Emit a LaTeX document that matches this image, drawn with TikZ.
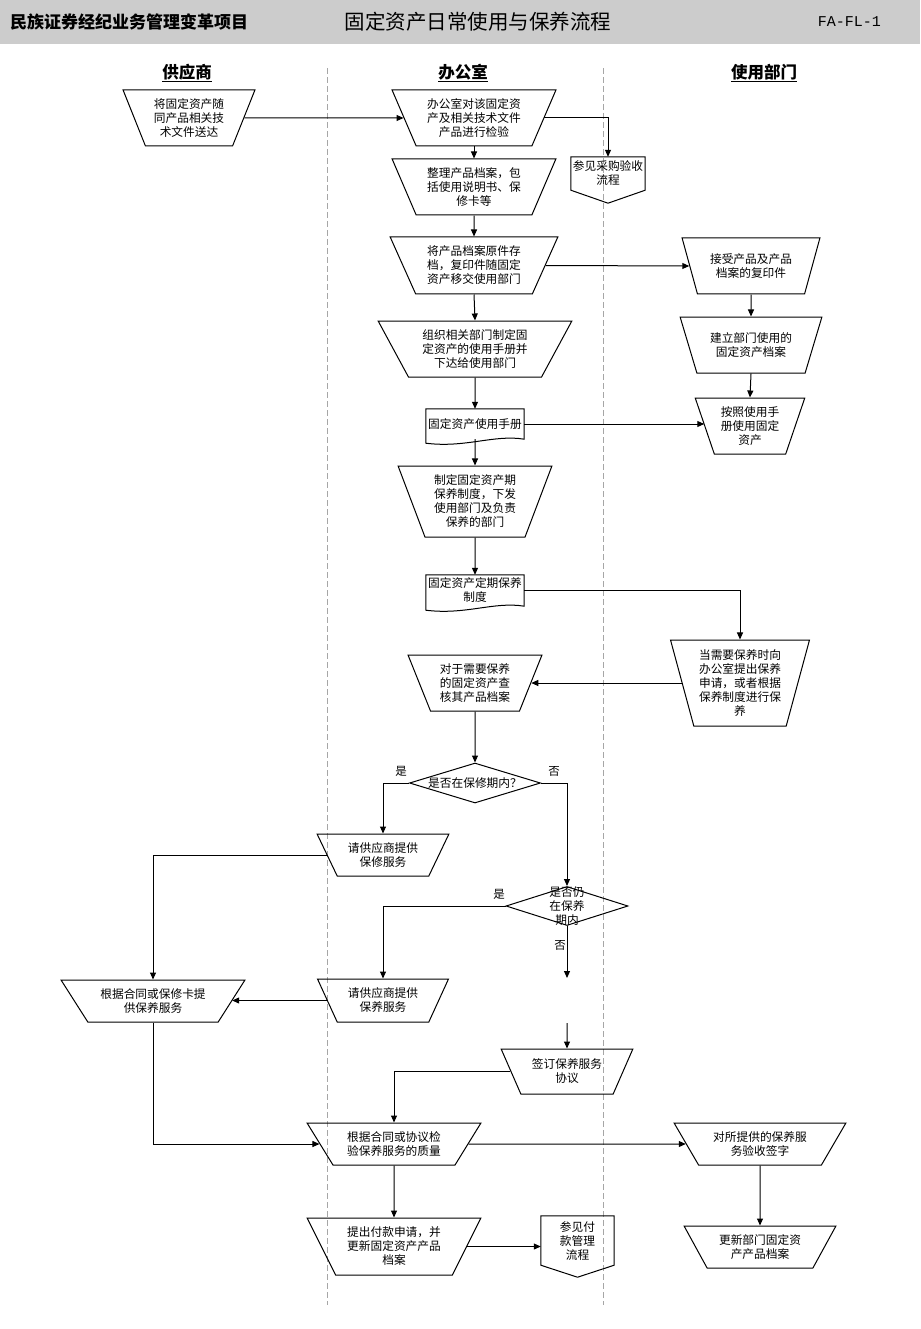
\documentclass[tikz,border=0pt]{standalone}
\usepackage{fontspec}
\newfontfamily\cjkf{Noto Sans CJK SC}
\newfontfamily\monof{Liberation Mono}
\usetikzlibrary{shapes.geometric,arrows.meta}
\begin{document}
\begin{tikzpicture}[x=1pt,y=-1pt,
  txt/.style={font=\cjkf\fontsize{11.7}{14}\selectfont, align=center, inner sep=0pt},
  box/.style={txt, draw, line width=1pt},
  trap/.style n args={3}{box, trapezium, trapezium stretches=true,
     minimum width=#1, minimum height=#3,
     trapezium left angle={180-atan(#3/((#1-#2)/2))},
     trapezium right angle={180-atan(#3/((#1-#2)/2))}},
  docbox/.style={txt, minimum width=98, minimum height=30},
  refbox/.style n args={2}{txt, minimum width=#1, minimum height=#2},
  dia/.style n args={2}{draw, line width=1pt, diamond, inner sep=0pt, minimum width=#1, minimum height=#2},
  arr/.style={line width=1pt, -{Triangle[length=7pt,width=6pt]}},
  lane/.style={gray!70, line width=1pt, dash pattern=on 6pt off 3pt},
  lbl/.style={font=\cjkf\fontsize{11.5}{13}\selectfont, inner sep=0pt},
  head/.style={font=\cjkf\bfseries\fontsize{16.5}{18}\selectfont, inner sep=0pt}
]
\useasboundingbox (0,0) rectangle (920,1329);
% header band
\fill[fill={rgb,255:red,204;green,204;blue,204}] (0,0) rectangle (920,44);
\node[font=\cjkf\bfseries\fontsize{17}{19}\selectfont, anchor=west, inner sep=0pt] (hdrL) at (10,22) {民族证券经纪业务管理变革项目};
\node[font=\cjkf\fontsize{20.5}{22}\selectfont, inner sep=0pt] (hdrT) at (478,22) {固定资产日常使用与保养流程};
\node[font=\monof\fontsize{15}{17}\selectfont, anchor=east, inner sep=0pt] (hdrR) at (881,22) {FA-FL-1};
% lanes
\draw[lane] (327,68) -- (327,1305);
\draw[lane] (603,68) -- (603,1305);
\node[head] (h1) at (187,73) {\underline{供应商}};
\node[head] (h2) at (463,73) {\underline{办公室}};
\node[head] (h3) at (764,73) {\underline{使用部门}};

% supplier
\node[trap={132}{80}{56}] (S1) at (189,118) {将固定资产随\\同产品相关技\\术文件送达};
\node[trap={184}{111}{42}] (S2) at (153,1001) {根据合同或保修卡提\\供保养服务};

% office
\node[trap={164}{108}{56}] (O1) at (474,118) {办公室对该固定资\\产及相关技术文件\\产品进行检验};
\node[trap={164}{108}{56}] (O2) at (474,187) {整理产品档案，包\\括使用说明书、保\\修卡等};
\node[trap={168}{108}{57}] (O3) at (474,265.5) {将产品档案原件存\\档，复印件随固定\\资产移交使用部门};
\node[trap={194}{125}{56}] (O4) at (475,349) {组织相关部门制定固\\定资产的使用手册并\\下达给使用部门};
\node[docbox] (O5) at (475,424) {固定资产使用手册};
\draw[line width=1pt] (O5.north west) -- (O5.north east) -- (O5.south east)
  .. controls ([xshift=-30pt,yshift=5pt]O5.south east) and ([xshift=40pt,yshift=-9pt]O5.south west) .. ([yshift=-4pt]O5.south west) -- cycle;
\node[trap={154}{95}{71}] (O6) at (475,501.5) {制定固定资产期\\保养制度，下发\\使用部门及负责\\保养的部门};
\node[docbox, minimum height=31] (O7) at (475,590.5) {固定资产定期保养\\制度};
\draw[line width=1pt] (O7.north west) -- (O7.north east) -- (O7.south east)
  .. controls ([xshift=-30pt,yshift=5pt]O7.south east) and ([xshift=40pt,yshift=-9pt]O7.south west) .. ([yshift=-4pt]O7.south west) -- cycle;
\node[trap={134}{83}{56}] (O8) at (475,683) {对于需要保养\\的固定资产查\\核其产品档案};
\node[dia={131}{40}, label={[txt]center:是否在保修期内？}] (D1) at (475,783) {};
\node[trap={132}{80}{42}] (O9) at (383,855) {请供应商提供\\保修服务};
\node[dia={122}{39}, label={[txt]center:是否仍\\在保养\\期内}] (D2) at (567,906) {};
\node[trap={132}{80}{43}] (O10) at (383,1000.5) {请供应商提供\\保养服务};
\coordinate (c1) at (567,978);
\coordinate (c2) at (567,1023);
\node[trap={133}{79}{45}] (O11) at (567,1071.5) {签订保养服务\\协议};
\node[trap={174}{107}{42}] (O12) at (394,1144) {根据合同或协议检\\验保养服务的质量};
\node[trap={174}{107}{57}] (O13) at (394,1246.5) {提出付款申请，并\\更新固定资产产品\\档案};

% reference boxes
\node[refbox={74}{33}] (R1) at (608,173.5) {参见采购验收\\流程};
\draw[line width=1pt] (R1.north west) -- (R1.north east) -- (R1.south east) -- ([yshift=-13pt]R1.south) -- (R1.south west) -- cycle;
\node[refbox={73}{49}] (R2) at (577.5,1240.5) {参见付\\款管理\\流程};
\draw[line width=1pt] (R2.north west) -- (R2.north east) -- (R2.south east) -- ([yshift=-12pt]R2.south) -- (R2.south west) -- cycle;

% user department
\node[trap={138}{85}{56}] (U1) at (751,266) {接受产品及产品\\档案的复印件};
\node[trap={142}{85}{56}] (U2) at (751,345) {建立部门使用的\\固定资产档案};
\node[trap={110}{65}{56}] (U3) at (750,426) {按照使用手\\册使用固定\\资产};
\node[trap={139}{86}{86}] (U4) at (740,683) {当需要保养时向\\办公室提出保养\\申请，或者根据\\保养制度进行保\\养};
\node[trap={172}{109}{42}] (U5) at (760,1144) {对所提供的保养服\\务验收签字};
\node[trap={152}{92}{42}] (U6) at (760,1247) {更新部门固定资\\产产品档案};

% labels
\node[lbl] (l1) at (401,771) {是};
\node[lbl] (l2) at (554,771) {否};
\node[lbl] (l3) at (499,894) {是};
\node[lbl] (l4) at (560,945) {否};

% connectors
\draw[arr] (S1.east) -- (O1.west);
\draw[arr] (O1.east) -| (R1.north);
\draw[arr] (O1.south) -- (O2.north);
\draw[arr] (O2.south) -- (O3.north);
\draw[arr] (O3.east) -- (U1.west);
\draw[arr] (O3.south) -- (O4.north);
\draw[arr] (O4.south) -- (O5.north);
\draw[arr] (O5.east) -- (O5.east -| U3.west);
\draw[arr] (O5.south) -- (O6.north);
\draw[arr] (O6.south) -- (O7.north);
\draw[arr] (O7.east) -| (U4.north);
\draw[arr] (U4.west) -- (U4.west -| O8.east);
\draw[arr] (O8.south) -- (D1.north);
\draw[arr] (D1.west) -| (O9.north);
\draw[arr] (D1.east) -| (D2.north);
\draw[arr] (D2.west) -| (O10.north);
\draw[arr] (D2.south) -- (c1);
\draw[arr] (c2) -- (O11.north);
\draw[arr] (O9.west) -| (S2.north);
\draw[arr] (O10.west) -- (O10.west -| S2.east);
\draw[arr] (O11.west) -| (O12.north);
\draw[arr] (S2.south) |- (O12.west);
\draw[arr] (O12.east) -- (U5.west);
\draw[arr] (O12.south) -- (O13.north);
\draw[arr] (O13.east) -- (O13.east -| R2.west);
\draw[arr] (U1.south) -- (U2.north);
\draw[arr] (U2.south) -- (U3.north);
\draw[arr] (U5.south) -- (U6.north);
\end{tikzpicture}
\end{document}
